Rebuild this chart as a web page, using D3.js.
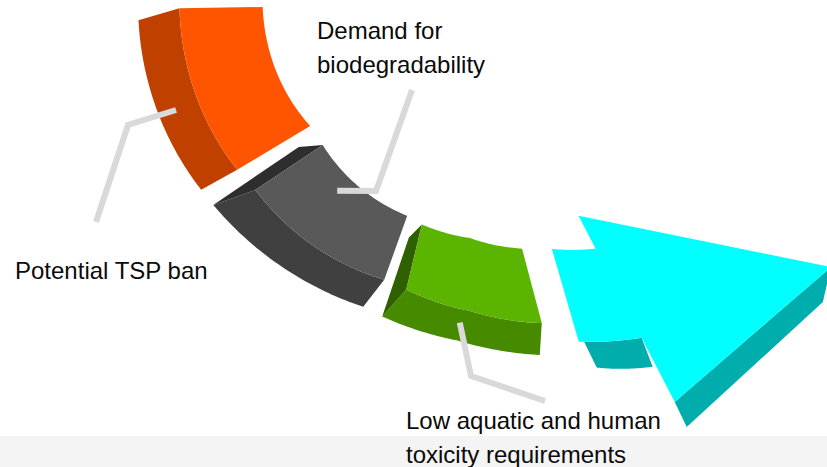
<!DOCTYPE html>
<html>
<head>
<meta charset="utf-8">
<script src="https://cdn.jsdelivr.net/npm/d3@7"></script>
<style>
  html, body { margin: 0; padding: 0; background: #ffffff; }
  svg { display: block; }
</style>
</head>
<body>
<script>
// ---- Stages along the curved arrow (first to last) ----
const stageLabels = [
  ["Potential TSP ban"],
  ["Demand for", "biodegradability"],
  ["Low aquatic and human", "toxicity requirements"]
];
const faceColors = ["#ff5500", "#595959", "#5ab400", "#00ffff"];
const sideColors = ["#c04000", "#404040", "#468a00", "#00adad"];
const capColors  = [null, "#2e2e2e", "#2e6000", null];

// ---- Layout of the ring (screen angles in degrees, y pointing down) ----
const W = 827, H = 467;
const C = [467, 46];                       // projected ring centre
const pieces = [                            // start/end angle of inner and outer edge
  { inner: [190.8, 153.0], outer: [187.5, 151.7] },
  { inner: [145.5, 109.4], outer: [145.8, 109.5] },
  { inner: [104.2, 74.8],  outer: [104.0, 74.9] },
  { inner: [67.3, 57.6],   outer: [69.3, 59.1] }
];
// radius profile of the projected ring, flattened a little at the bottom
const innerAngles = [190.8, 153.0, 145.5, 109.4, 104.2, 89.2, 74.8, 67.3, 57.6];
const innerRadii  = [208,   176,   175,   180,   184,   192,  210,  220,  240];
const outerAngles = [187.5, 151.7, 145.8, 109.5, 104.0, 89.3, 74.9, 69.3, 59.1];
const outerRadii  = [290,   261,   256,   248,   251,   265,  287,  316,  340];
// extrusion (depth) vector of the outer wall at each piece end
const depthAngles = pieces.flatMap(p => p.outer);
const depthX = [-41, -36, -42, -21, -24, -2, 18, 11];
const depthY = [12, 20, 15, 27, 27, 32, 26, 29];

const innerR = d3.scaleLinear().domain(innerAngles).range(innerRadii);
const outerR = d3.scaleLinear().domain(outerAngles).range(outerRadii);
const offX = d3.scaleLinear().domain(depthAngles).range(depthX);
const offY = d3.scaleLinear().domain(depthAngles).range(depthY);
// depth vector along the inner edge (only seen on the end caps)
const inOffX = d3.scaleLinear().domain([145.5, 104.2]).range([-24, -13]).clamp(true);
const inOffY = d3.scaleLinear().domain([145.5, 104.2]).range([2, 13]).clamp(true);

const rad = d => d * Math.PI / 180;
const ringPt = (th, r) => [C[0] + r * Math.cos(rad(th)), C[1] + r * Math.sin(rad(th))];
const innerPt = th => ringPt(th, innerR(th));
const outerPt = th => ringPt(th, outerR(th));
const outerLow = th => { const p = outerPt(th); return [p[0] + offX(th), p[1] + offY(th)]; };
const innerLow = th => { const p = innerPt(th); return [p[0] + inOffX(th), p[1] + inOffY(th)]; };
const arc = (fn, a0, a1, n = 48) => d3.range(n + 1).map(i => fn(a0 + (a1 - a0) * i / n));
const add = (a, b, k = 1) => [a[0] + k * b[0], a[1] + k * b[1]];

const svg = d3.select("body").append("svg").attr("width", W).attr("height", H);
const shape = d3.line().curve(d3.curveLinearClosed);

// light band along the bottom
svg.append("rect").attr("x", 0).attr("y", 436).attr("width", W).attr("height", H - 436)
  .attr("fill", "#f4f4f4");

const g = svg.append("g");

// ---- Three ring segments ----
pieces.slice(0, 3).forEach((p, i) => {
  const [i0, i1] = p.inner, [o0, o1] = p.outer;
  // outer wall
  g.append("path")
    .attr("d", shape([...arc(outerPt, o0, o1), ...arc(outerLow, o1, o0)]))
    .attr("fill", sideColors[i]);
  // start cap
  if (capColors[i]) {
    g.append("path")
      .attr("d", shape([innerPt(i0), outerPt(o0), outerLow(o0), innerLow(i0)]))
      .attr("fill", capColors[i]);
  }
  // top face
  g.append("path")
    .attr("d", shape([...arc(innerPt, i0, i1), ...arc(outerPt, o1, o0)]))
    .attr("fill", faceColors[i]);
});

// ---- Arrow (tail on the ring, straight head) ----
{
  const p = pieces[3];
  const [i0, i1] = p.inner, [o0, o1] = p.outer;
  const nIn = innerPt(i1), nOut = outerPt(o1);
  const N = [nOut[0] - nIn[0], nOut[1] - nIn[1]];
  const len = Math.hypot(N[0], N[1]);
  const T = [N[1] / len, -N[0] / len];
  const M = [(nIn[0] + nOut[0]) / 2, (nIn[1] + nOut[1]) / 2];
  const backTop = add(nIn, N, -0.37);
  const backBottom = add(nOut, N, 0.72);
  const tip = add(add(M, T, 2.0 * len), N, 0.74);
  const headDepth0 = [12, 25], headDepth1 = [-8, 35];

  // underside of the tail
  g.append("path")
    .attr("d", shape([...arc(outerPt, o0 - 0.9, o1), ...arc(outerLow, o1, o0)]))
    .attr("fill", sideColors[3]);
  // underside of the head
  g.append("path")
    .attr("d", shape([backBottom, tip, add(tip, headDepth1), add(backBottom, headDepth0)]))
    .attr("fill", sideColors[3]);
  // top face
  g.append("path")
    .attr("d", shape([...arc(innerPt, i0, i1), backTop, tip, backBottom, ...arc(outerPt, o1, o0)]))
    .attr("fill", faceColors[3]);
}

// ---- Leader lines and labels ----
const ringAnchor = (th, s, depth) => {
  const a = innerPt(th), b = outerPt(th);
  const q = [a[0] + (b[0] - a[0]) * s, a[1] + (b[1] - a[1]) * s];
  return [q[0] + depth * offX(th), q[1] + depth * offY(th)];
};
const leaders = [
  { anchor: [168.5, 1, 0.57], bend: [128, 125], end: [96, 222] },
  { anchor: [131.9, 0.23, 0],  bend: [376, 191], end: [412, 90] },
  { anchor: [90.3, 1, 0.43],  bend: [471, 376], end: [545, 401] }
];
const labelPos = [[15, 279], [317, 39], [406, 429]];
const lineGap = 33.5;

leaders.forEach(l => {
  svg.append("path")
    .attr("d", d3.line()([ringAnchor(...l.anchor), l.bend, l.end]))
    .attr("fill", "none")
    .attr("stroke", "#d9d9d9")
    .attr("stroke-width", 6)
    .attr("stroke-linejoin", "miter");
});

stageLabels.forEach((lines, i) => {
  const t = svg.append("text")
    .attr("x", labelPos[i][0]).attr("y", labelPos[i][1])
    .attr("font-family", "'Liberation Sans', Arial, Helvetica, sans-serif")
    .attr("font-size", 24)
    .attr("fill", "#0a0a0a");
  lines.forEach((s, k) => {
    t.append("tspan").attr("x", labelPos[i][0]).attr("dy", k === 0 ? 0 : lineGap).text(s);
  });
});
</script>
</body>
</html>
